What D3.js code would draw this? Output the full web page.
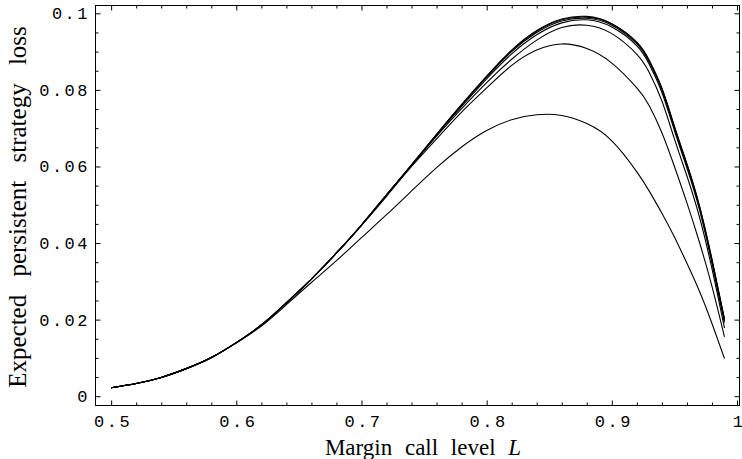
<!DOCTYPE html>
<html>
<head>
<meta charset="utf-8">
<script src="https://cdn.jsdelivr.net/npm/d3@7.9.0/dist/d3.min.js"></script>
<style>
  html, body { margin: 0; padding: 0; background: #fff; }
  svg { display: block; }
  .tick text { font-family: "Liberation Mono", "DejaVu Sans Mono", monospace; font-size: 17px; letter-spacing: 2.5px; fill: #000; }
  .tick line { stroke: #000; }
  .title { font-family: "Liberation Serif", "Times New Roman", serif; fill: #000; }
</style>
</head>
<body>
<svg id="chart" width="742" height="459"></svg>
<script>
// margin call level L (sample points)
const levels = [0.50, 0.52, 0.54, 0.56, 0.58, 0.60, 0.62, 0.64, 0.66, 0.68, 0.70, 0.72, 0.74, 0.76, 0.78,
  0.80, 0.82, 0.84, 0.86, 0.88, 0.90, 0.92, 0.93, 0.94, 0.95, 0.96, 0.97, 0.98, 0.99];

// expected persistent strategy loss, one array per curve (lowest to highest)
const lossA = [0.0022, 0.0033, 0.0049, 0.0072, 0.0100, 0.0139, 0.0183, 0.0239, 0.0297, 0.0354, 0.0414, 0.0474, 0.0536, 0.0597, 0.0651,
  0.0694, 0.0722, 0.0735, 0.0733, 0.0712, 0.0667, 0.0586, 0.0535, 0.0478, 0.0416, 0.0347, 0.0274, 0.0190, 0.0098];
const lossB = [0.0022, 0.0033, 0.0049, 0.0072, 0.0101, 0.0140, 0.0186, 0.0244, 0.0306, 0.0374, 0.0446, 0.0522, 0.0600, 0.0672, 0.0742,
  0.0805, 0.0864, 0.0904, 0.0920, 0.0908, 0.0870, 0.0805, 0.0758, 0.0688, 0.0600, 0.0505, 0.0402, 0.0287, 0.0155];
const lossC = [0.0022, 0.0033, 0.0049, 0.0072, 0.0101, 0.0140, 0.0186, 0.0244, 0.0306, 0.0374, 0.0447, 0.0525, 0.0602, 0.0679, 0.0751,
  0.0819, 0.0880, 0.0930, 0.0963, 0.0969, 0.0947, 0.0893, 0.0845, 0.0771, 0.0672, 0.0575, 0.0468, 0.0333, 0.0178];
const lossD = [0.0022, 0.0033, 0.0049, 0.0072, 0.0101, 0.0140, 0.0186, 0.0244, 0.0306, 0.0374, 0.0447, 0.0526, 0.0603, 0.0682, 0.0757,
  0.0829, 0.0894, 0.0944, 0.0975, 0.0983, 0.0964, 0.0915, 0.0866, 0.0793, 0.0694, 0.0596, 0.0487, 0.0347, 0.0192];
const lossE = [0.0022, 0.0033, 0.0049, 0.0072, 0.0101, 0.0140, 0.0186, 0.0244, 0.0306, 0.0374, 0.0447, 0.0526, 0.0604, 0.0683, 0.0760,
  0.0833, 0.0900, 0.0950, 0.0980, 0.0987, 0.0969, 0.0920, 0.0872, 0.0800, 0.0700, 0.0602, 0.0493, 0.0353, 0.0197];
const lossF = [0.0022, 0.0033, 0.0049, 0.0072, 0.0101, 0.0140, 0.0186, 0.0244, 0.0306, 0.0374, 0.0447, 0.0526, 0.0604, 0.0684, 0.0761,
  0.0835, 0.0903, 0.0953, 0.0983, 0.0990, 0.0972, 0.0923, 0.0875, 0.0803, 0.0703, 0.0605, 0.0496, 0.0356, 0.0200];
const lossG = [0.0022, 0.0033, 0.0049, 0.0072, 0.0101, 0.0140, 0.0186, 0.0244, 0.0306, 0.0374, 0.0447, 0.0526, 0.0604, 0.0684, 0.0762,
  0.0836, 0.0904, 0.0955, 0.0985, 0.0992, 0.0973, 0.0925, 0.0877, 0.0805, 0.0705, 0.0607, 0.0498, 0.0358, 0.0202];

const xTicks = [0.5, 0.6, 0.7, 0.8, 0.9, 1.0];
const xTickLabels = ['0.5', '0.6', '0.7', '0.8', '0.9', '1'];
const yTicks = [0, 0.02, 0.04, 0.06, 0.08, 0.1];
const yTickLabels = ['0', '0.02', '0.04', '0.06', '0.08', '0.1'];

const svg = d3.select('#chart');

// frame edges in pixels, and the data range they show
const frame = { left: 95.5, right: 739.5, top: 5.5, bottom: 405.5 };
const x = d3.scaleLinear().domain([0.4875, 1.002]).range([frame.left, frame.right]);
const y = d3.scaleLinear().domain([-0.00243, 0.10204]).range([frame.bottom, frame.top]);

const xMinor = d3.range(0.52, 1.0, 0.02).filter(v => Math.abs(v * 10 - Math.round(v * 10)) > 1e-6);
const yMinor = d3.range(0.005, 0.1, 0.005).filter(v => Math.abs(v * 50 - Math.round(v * 50)) > 1e-6);

function addAxis(axis, tx, ty) {
    const g = svg.append('g').attr('transform', `translate(${tx},${ty})`).call(axis);
    g.select('.domain').remove();
    return g;
}

// bottom
const bottom = addAxis(d3.axisBottom(x).tickValues(xTicks).tickSize(-5).tickPadding(9)
    .tickFormat((d, i) => xTickLabels[i]), 0, frame.bottom);
bottom.selectAll('text').attr('dx', 1.5);
addAxis(d3.axisBottom(x).tickValues(xMinor).tickSize(-3).tickFormat(''), 0, frame.bottom);
// top
addAxis(d3.axisTop(x).tickValues(xTicks).tickSize(-5).tickFormat(''), 0, frame.top);
addAxis(d3.axisTop(x).tickValues(xMinor).tickSize(-3).tickFormat(''), 0, frame.top);
// left
addAxis(d3.axisLeft(y).tickValues(yTicks).tickSize(-5).tickPadding(5.5)
    .tickFormat((d, i) => yTickLabels[i]), frame.left, 0);
addAxis(d3.axisLeft(y).tickValues(yMinor).tickSize(-3).tickFormat(''), frame.left, 0);
// right
addAxis(d3.axisRight(y).tickValues(yTicks).tickSize(-5).tickFormat(''), frame.right, 0);
addAxis(d3.axisRight(y).tickValues(yMinor).tickSize(-3).tickFormat(''), frame.right, 0);

svg.selectAll('.tick line').attr('stroke', '#000');

svg.append('rect')
    .attr('x', frame.left).attr('y', frame.top)
    .attr('width', frame.right - frame.left).attr('height', frame.bottom - frame.top)
    .attr('fill', 'none').attr('stroke', '#000').attr('stroke-width', 1);

const line = d3.line()
    .x((d, i) => x(levels[i]))
    .y(d => y(d))
    .curve(d3.curveNatural);

[lossA, lossB, lossC, lossD, lossE, lossF, lossG].forEach(series => {
    svg.append('path')
        .attr('d', line(series))
        .attr('fill', 'none')
        .attr('stroke', '#000')
        .attr('stroke-width', 1.1);
});

// axis titles
const xTitle = svg.append('text').attr('class', 'title')
    .attr('x', 423).attr('y', 455).attr('text-anchor', 'middle')
    .style('font-size', '23px').style('word-spacing', '7px');
xTitle.append('tspan').text('Margin call level ');
xTitle.append('tspan').attr('font-style', 'italic').text('L');

svg.append('text').attr('class', 'title')
    .attr('transform', 'translate(26,207) rotate(-90)')
    .attr('text-anchor', 'middle')
    .style('font-size', '25px').style('word-spacing', '12px')
    .text('Expected persistent strategy loss');
</script>
</body>
</html>
